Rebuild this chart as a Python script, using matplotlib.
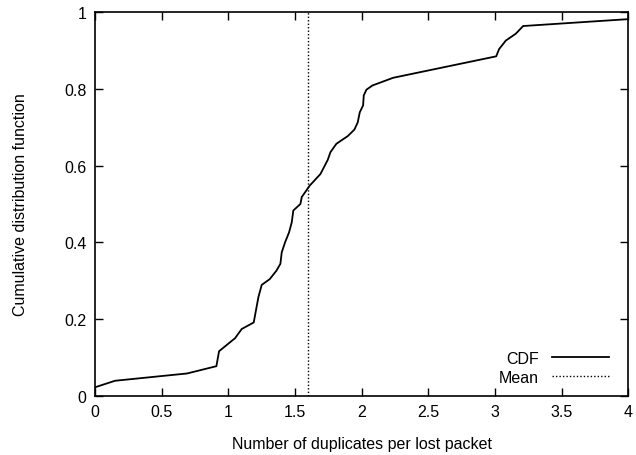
import numpy as np
import matplotlib

matplotlib.use("Agg")
import matplotlib.pyplot as plt

# CDF curve
dup_x = [0.0, 0.15, 0.69, 0.91, 0.93, 1.05, 1.10, 1.19, 1.225, 1.25, 1.31, 1.36,
         1.39, 1.40, 1.425, 1.455, 1.475, 1.487, 1.54, 1.55, 1.61, 1.69, 1.745,
         1.765, 1.81, 1.895, 1.945, 1.97, 1.985, 2.01, 2.015, 2.035, 2.08, 2.235,
         3.008, 3.03, 3.08, 3.155, 3.21, 4.0]
cdf_y = [0.022, 0.039, 0.058, 0.077, 0.116, 0.150, 0.174, 0.191, 0.257, 0.289, 0.304, 0.326,
         0.344, 0.374, 0.400, 0.426, 0.452, 0.483, 0.500, 0.518, 0.548, 0.578, 0.615,
         0.635, 0.657, 0.677, 0.694, 0.713, 0.739, 0.757, 0.783, 0.798, 0.809, 0.829,
         0.885, 0.904, 0.926, 0.944, 0.964, 0.982]
mean_dup = 1.6

x_ticks = [0, 0.5, 1, 1.5, 2, 2.5, 3, 3.5, 4]
x_labels = ["0", "0.5", "1", "1.5", "2", "2.5", "3", "3.5", "4"]
y_ticks = [0, 0.2, 0.4, 0.6, 0.8, 1]
y_labels = ["0", "0.2", "0.4", "0.6", "0.8", "1"]

plt.rcParams["font.family"] = ["Liberation Sans", "DejaVu Sans"]
plt.rcParams["font.size"] = 11.5

fig = plt.figure(figsize=(6.36, 4.56), dpi=100)
ax = fig.add_axes([0.1494, 0.130, 0.8388, 0.841])

ax.plot(dup_x, cdf_y, color="black", lw=1.3, label="CDF")
ax.axvline(mean_dup, color="black", lw=1.0, ls=(0, (1, 1.5)), label="Mean")

ax.set_xlim(0, 4)
ax.set_ylim(0, 1)
ax.set_xticks(x_ticks)
ax.set_xticklabels(x_labels)
ax.set_yticks(y_ticks)
ax.set_yticklabels(y_labels)
ax.tick_params(direction="in", length=6, width=1, top=True, right=True, pad=6)
for s in ax.spines.values():
    s.set_linewidth(1.2)

ax.set_xlabel("Number of duplicates per lost packet", labelpad=12)
ax.set_ylabel("Cumulative distribution function", labelpad=26)

ax.legend(loc="lower right", frameon=False, markerfirst=False, handlelength=3.6,
          handletextpad=0.8, labelspacing=0.25, borderaxespad=0.3,
          bbox_to_anchor=(0.985, 0.0))

fig.savefig("out.png", dpi=100)
